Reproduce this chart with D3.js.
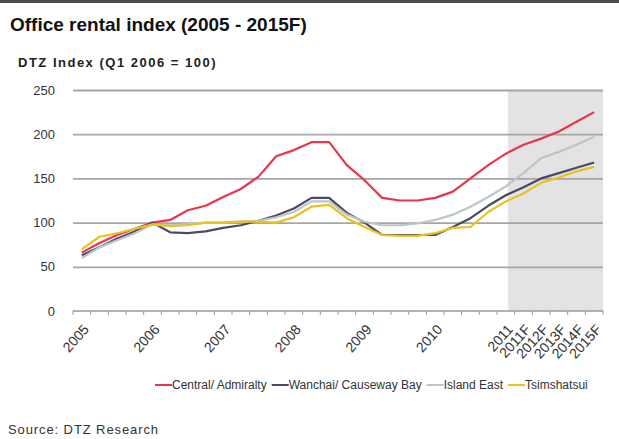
<!DOCTYPE html>
<html>
<head>
<meta charset="utf-8">
<script src="https://cdn.jsdelivr.net/npm/d3@7"></script>
<style>
  body { margin: 0; background: #fff; overflow: hidden; }
  text { font-family: Arial, 'Liberation Sans', sans-serif; }
</style>
</head>
<body>
<script>
// quarters 2005 Q1 .. 2011 Q1, then annual forecasts
const categories = [
  '2005Q1', '2005Q2', '2005Q3', '2005Q4',
  '2006Q1', '2006Q2', '2006Q3', '2006Q4',
  '2007Q1', '2007Q2', '2007Q3', '2007Q4',
  '2008Q1', '2008Q2', '2008Q3', '2008Q4',
  '2009Q1', '2009Q2', '2009Q3', '2009Q4',
  '2010Q1', '2010Q2', '2010Q3', '2010Q4',
  '2011Q1', '2011F', '2012F', '2013F', '2014F', '2015F'
]
const tickLabels = [
  '2005', '', '', '', '2006', '', '', '', '2007', '', '', '',
  '2008', '', '', '', '2009', '', '', '', '2010', '', '', '',
  '2011', '2011F', '2012F', '2013F', '2014F', '2015F'
]

const central = [66, 77, 86, 93, 100, 103, 114, 119, 129, 138, 152, 175, 182, 191, 191,
  165, 148, 128, 125, 125, 128, 135, 150, 165, 178, 188, 195, 203, 214, 225]
const wanchai = [63, 72, 82, 90, 100, 89, 88, 90, 94, 97, 102, 108, 116, 128, 128,
  111, 100, 86, 86, 86, 86, 95, 105, 119, 131, 140, 150, 156, 162, 168]
const islandEast = [60, 72, 80, 88, 98, 97, 98, 100, 100, 101, 102, 106, 112, 124, 124,
  109, 101, 97, 97, 99, 103, 109, 118, 129, 141, 156, 173, 180, 188, 197]
const tsimshatsui = [70, 84, 88, 93, 98, 96, 97, 100, 100, 101, 101, 100, 106, 118, 120,
  105, 95, 86, 85, 85, 88, 94, 95, 112, 124, 133, 145, 151, 158, 163]

const seriesNames = ['Central/ Admiralty', 'Wanchai/ Causeway Bay', 'Island East', 'Tsimshatsui']
const seriesColors = ['#e8364e', '#4b4a66', '#b9c6ca', '#e9c21c']
const yTicks = [0, 50, 100, 150, 200, 250]

const width = 619
const height = 439
const margin = { top: 90, right: 16, bottom: 128, left: 73 }
const plotW = width - margin.left - margin.right
const plotH = height - margin.top - margin.bottom

const svg = d3.select('body').append('svg')
  .attr('width', width)
  .attr('height', height)

// frame line at the top
svg.append('rect')
  .attr('x', 0).attr('y', 0)
  .attr('width', width).attr('height', 3)
  .attr('fill', '#4d4d4d')

svg.append('text')
  .attr('x', 10).attr('y', 31)
  .attr('font-size', 19).attr('font-weight', 'bold')
  .attr('fill', '#111')
  .text('Office rental index (2005 - 2015F)')

svg.append('text')
  .attr('x', 18).attr('y', 67)
  .attr('font-size', 13).attr('font-weight', 'bold')
  .attr('letter-spacing', 1.5)
  .attr('fill', '#222')
  .text('DTZ Index (Q1 2006 = 100)')

const x = d3.scaleBand().domain(categories).range([0, plotW])
const y = d3.scaleLinear().domain([0, 250]).range([plotH, 0])
const cx = d => x(d) + x.bandwidth() / 2

const g = svg.append('g').attr('transform', `translate(${margin.left},${margin.top})`)

// forecast shading
g.append('rect')
  .attr('x', cx('2011Q1') + 2)
  .attr('y', 0)
  .attr('width', plotW - cx('2011Q1') - 2)
  .attr('height', plotH)
  .attr('fill', '#e3e3e3')

// gridlines + y labels
g.append('g')
  .call(d3.axisLeft(y).tickValues(yTicks).tickSize(-plotW).tickPadding(18))
  .call(a => a.select('.domain').remove())
  .call(a => a.selectAll('line')
    .attr('stroke', d => d === 0 ? 'none' : '#a6a6a6')
    .attr('stroke-width', 1.8))
  .call(a => a.selectAll('text')
    .attr('font-size', 13).attr('fill', '#333')
    .style('font-family', 'Arial, Liberation Sans, sans-serif'))

// x axis line with ticks at category boundaries
const xAxis = g.append('g').attr('transform', `translate(0,${plotH})`)
xAxis.append('line')
  .attr('x1', 0).attr('x2', plotW)
  .attr('stroke', '#9a9a9a').attr('stroke-width', 1.5)
xAxis.selectAll('.tk')
  .data(categories.concat(['end']))
  .enter().append('line')
  .attr('class', 'tk')
  .attr('x1', (d, i) => i * x.step()).attr('x2', (d, i) => i * x.step())
  .attr('y1', 0).attr('y2', 4)
  .attr('stroke', '#9a9a9a').attr('stroke-width', 1)

xAxis.selectAll('.lbl')
  .data(categories)
  .enter().append('text')
  .attr('class', 'lbl')
  .attr('transform', d => `translate(${cx(d) + 8},${19}) rotate(-48)`)
  .attr('text-anchor', 'end')
  .attr('font-size', 14)
  .attr('fill', '#333')
  .text((d, i) => tickLabels[i])

// lines
const allSeries = [central, wanchai, islandEast, tsimshatsui]
const line = d3.line()
  .x((d, i) => cx(categories[i]))
  .y(d => y(d))

g.selectAll('.series')
  .data(allSeries)
  .enter().append('path')
  .attr('class', 'series')
  .attr('d', line)
  .attr('fill', 'none')
  .attr('stroke', (d, i) => seriesColors[i])
  .attr('stroke-width', 2.2)
  .attr('stroke-linejoin', 'round')

// legend
const legend = svg.append('g').attr('transform', 'translate(155,389)')
let lx = 0
seriesNames.forEach((name, i) => {
  const item = legend.append('g').attr('transform', `translate(${lx},0)`)
  item.append('line')
    .attr('x1', 0).attr('x2', 17)
    .attr('y1', -4).attr('y2', -4)
    .attr('stroke', seriesColors[i]).attr('stroke-width', 2)
  const t = item.append('text')
    .attr('x', 17).attr('y', 0)
    .attr('font-size', 12).attr('fill', '#333')
    .text(name)
  lx += 17 + t.node().getComputedTextLength() + 5
})

svg.append('text')
  .attr('x', 8).attr('y', 434)
  .attr('font-size', 13).attr('letter-spacing', 0.9).attr('fill', '#333')
  .text('Source: DTZ Research')
</script>
</body>
</html>
